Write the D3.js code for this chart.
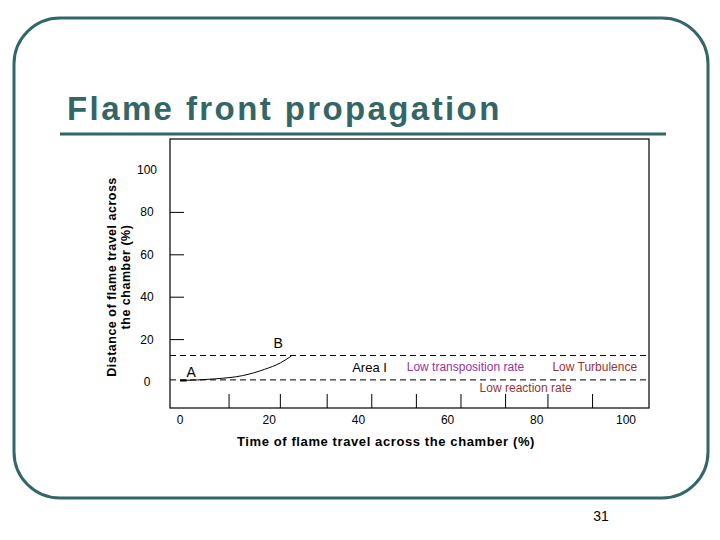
<!DOCTYPE html>
<html lang="en">
<head>
  <script type="text/javascript" src="https://d3js.org/d3.v7.min.js"></script>
  <style>
    body { margin: 0; background: #fff; }
    text { font-family: "Liberation Sans", Arial, sans-serif; }
  </style>
</head>
<body>
  <div class="chart"></div>
<script type="text/javascript">

  // data
  const yTicks = [20, 40, 60, 80, 100];
  const xTicks = [0, 20, 40, 60, 80, 100];
  const xMinorTicks = [11, 22.5, 33, 43, 53, 63, 73, 82.5, 92.5];
  const bandLines = [1, 12.5];
  const curveX = [0, 8, 14, 19, 22.5, 25];
  const curveY = [0.7, 1.5, 3, 6, 9, 12.3];
  const labels = [
    { text: 'A', x: 2.5, y: 2.2, color: '#000', size: 14 },
    { text: 'B', x: 22, y: 16, color: '#000', size: 14 },
    { text: 'Area I', x: 42.5, y: 4.5, color: '#000', size: 13 },
    { text: 'Low transposition rate', x: 64, y: 5.2, color: '#993399', size: 12 },
    { text: 'Low Turbulence', x: 93, y: 5.2, color: '#993333', size: 12 },
    { text: 'Low reaction rate', x: 77.5, y: -4.8, color: '#993333', size: 12 }
  ];

  const teal = '#336666';
  const svg = d3.select('.chart').append('svg')
    .attr('width', 720).attr('height', 540);

  // slide frame
  svg.append('rect')
    .attr('x', 14).attr('y', 18).attr('width', 694).attr('height', 480)
    .attr('rx', 46).attr('ry', 46)
    .attr('fill', 'none').attr('stroke', teal).attr('stroke-width', 3);

  svg.append('text').attr('x', 67).attr('y', 120)
    .attr('font-family', '"DejaVu Sans", sans-serif')
    .attr('font-weight', 'bold').attr('font-size', 33).attr('fill', teal)
    .attr('letter-spacing', 2.4)
    .text('Flame front propagation');
  svg.append('line').attr('x1', 60).attr('x2', 666).attr('y1', 134).attr('y2', 134)
    .attr('stroke', teal).attr('stroke-width', 3);

  const box = { left: 170, right: 649, top: 139, bottom: 408 };
  const x = d3.scaleLinear().domain([0, 100]).range([180, 626]);
  const y = d3.scaleLinear().domain([0, 100]).range([382, 170]);

  svg.append('rect')
    .attr('x', box.left).attr('y', box.top)
    .attr('width', box.right - box.left).attr('height', box.bottom - box.top)
    .attr('fill', 'none').attr('stroke', '#000').attr('stroke-width', 1.2);

  // y axis: short ticks inside the box, labels on the left
  const yAxis = svg.append('g').attr('class', 'y-axis');
  yAxis.selectAll('line').data(yTicks.filter(d => d < 100)).join('line')
    .attr('x1', box.left).attr('x2', box.left + 14)
    .attr('y1', d => y(d)).attr('y2', d => y(d))
    .attr('stroke', '#000');
  yAxis.selectAll('text').data([0].concat(yTicks)).join('text')
    .attr('x', 147).attr('y', d => y(d) + 4)
    .attr('text-anchor', 'middle').attr('font-size', 12)
    .text(d => d);

  // x axis: ticks rising from the bottom edge
  svg.append('g').selectAll('line').data(xMinorTicks).join('line')
    .attr('x1', d => x(d)).attr('x2', d => x(d))
    .attr('y1', box.bottom).attr('y2', box.bottom - 14)
    .attr('stroke', '#000');
  svg.append('g').selectAll('text').data(xTicks).join('text')
    .attr('x', d => x(d)).attr('y', 424)
    .attr('text-anchor', 'middle').attr('font-size', 12)
    .text(d => d);

  // dashed band
  svg.append('g').selectAll('line').data(bandLines).join('line')
    .attr('x1', box.left).attr('x2', box.right)
    .attr('y1', d => y(d)).attr('y2', d => y(d))
    .attr('stroke', '#000').attr('stroke-dasharray', '6,4');

  // curve A -> B
  const pts = curveX.map((d, i) => [d, curveY[i]]);
  svg.append('path').datum(pts)
    .attr('d', d3.line().x(d => x(d[0])).y(d => y(d[1])).curve(d3.curveMonotoneX))
    .attr('fill', 'none').attr('stroke', '#000').attr('stroke-width', 1);
  svg.append('line').attr('x1', x(0)).attr('x2', x(1.5))
    .attr('y1', y(0.7)).attr('y2', y(0.7)).attr('stroke', '#000').attr('stroke-width', 2);

  svg.append('g').selectAll('text').data(labels).join('text')
    .attr('x', d => x(d.x)).attr('y', d => y(d.y))
    .attr('text-anchor', 'middle').attr('font-size', d => d.size)
    .attr('fill', d => d.color)
    .text(d => d.text);

  // axis titles
  svg.append('text').attr('x', 386).attr('y', 446)
    .attr('text-anchor', 'middle').attr('font-size', 13).attr('font-weight', 'bold')
    .attr('letter-spacing', 0.6)
    .text('Time of flame travel across the chamber (%)');
  const yt = svg.append('text').attr('transform', 'translate(116,277) rotate(-90)')
    .attr('text-anchor', 'middle').attr('font-size', 12.5).attr('font-weight', 'bold')
    .attr('letter-spacing', 0.5);
  yt.append('tspan').attr('x', 0).attr('dy', 0).text('Distance of flame travel across');
  yt.append('tspan').attr('x', 0).attr('dy', 14).text('the chamber (%)');

  svg.append('text').attr('x', 601).attr('y', 521)
    .attr('text-anchor', 'middle').attr('font-size', 14).text('31');

</script>
</body>
</html>
